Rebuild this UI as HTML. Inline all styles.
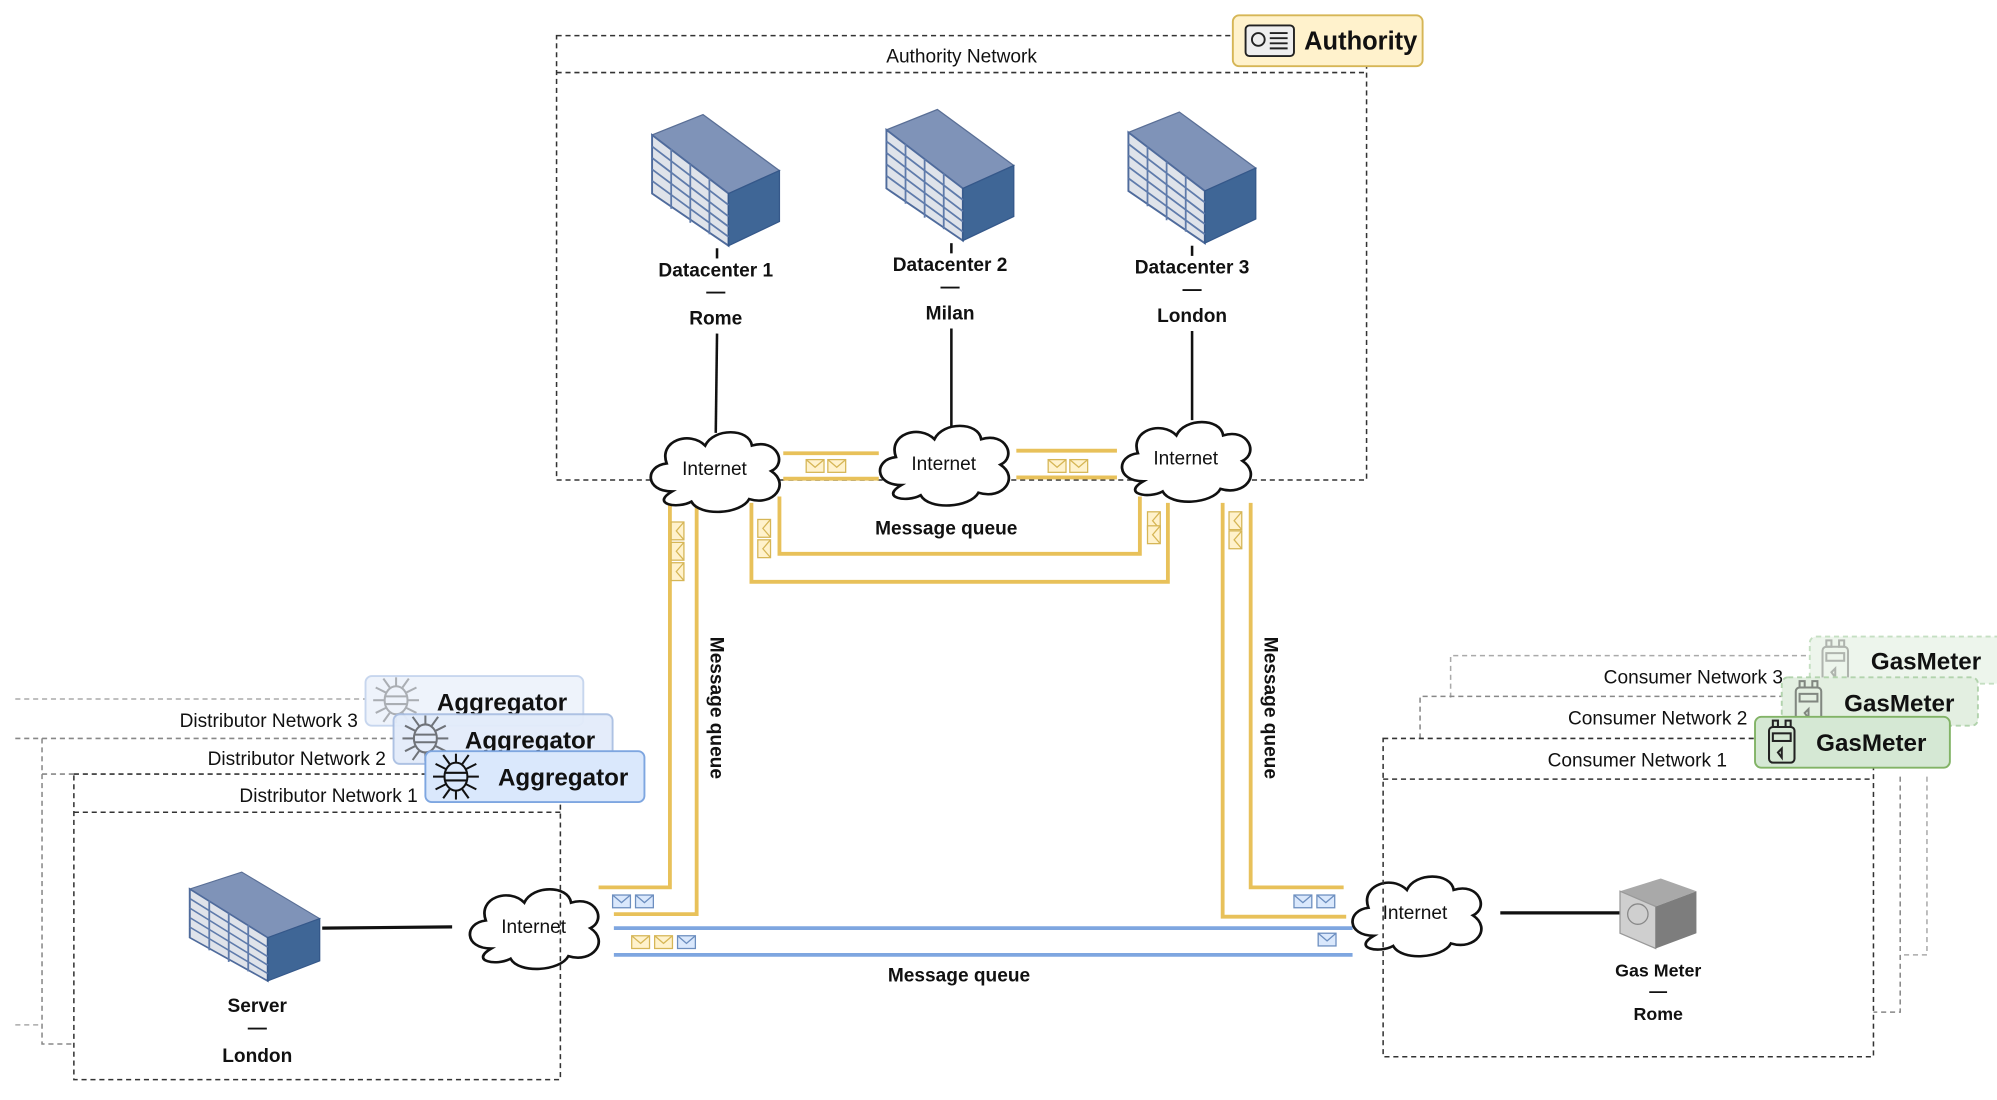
<!DOCTYPE html>
<html><head><meta charset="utf-8"><style>
html,body{margin:0;padding:0;background:#fff;width:1997px;height:1100px;overflow:hidden}
svg{display:block}
text{font-family:"Liberation Sans Narrow","Liberation Sans",sans-serif;fill:#111}
</style></head><body>
<svg width="1997" height="1100" viewBox="0 0 1568 864" preserveAspectRatio="none">
<defs>
<g id="cube">
  <polygon points="0,16 40,0 100,44 60,62" fill="#7f93b8" stroke="#5a6f96" stroke-width="1"/>
  <polygon points="0,16 60,62 60,103 0,62" fill="#dfe3ea" stroke="#4f6b9c" stroke-width="1.5"/>
  <polygon points="60,62 100,44 100,84 60,103" fill="#3f6696" stroke="#35588a" stroke-width="1"/>
  <g stroke="#5f7bab" stroke-width="1.4">
    <line x1="15" y1="27" x2="15" y2="74"/><line x1="30" y1="39" x2="30" y2="85"/><line x1="45" y1="50" x2="45" y2="94"/>
    <line x1="0" y1="25" x2="60" y2="71"/><line x1="0" y1="34" x2="60" y2="80"/><line x1="0" y1="43" x2="60" y2="88"/><line x1="0" y1="52" x2="60" y2="96"/>
  </g>
</g>
<path id="cloud" d="M22,50 C2,50 2,30 18,28 C12,10 35,2 46,14 C52,0 78,0 80,14 C98,8 106,28 94,34 C108,44 96,62 78,56 C72,68 42,70 36,58 C26,64 6,60 22,50 Z" fill="#fff" stroke="#111" stroke-width="2"/>
<g id="envY"><rect x="0" y="0" width="14" height="10" fill="#fff2cc" stroke="#d6b656"/><polyline points="0,0 7,6 14,0" fill="none" stroke="#d6b656"/></g>
<g id="envB"><rect x="0" y="0" width="14" height="10" fill="#dae8fc" stroke="#6c8ebf"/><polyline points="0,0 7,6 14,0" fill="none" stroke="#6c8ebf"/></g>
<g id="aggIcon" fill="none" stroke="#111" stroke-width="1.6">
  <ellipse cx="0" cy="0" rx="9" ry="11"/><line x1="-9" y1="-3" x2="9" y2="-3"/><line x1="-9" y1="3" x2="9" y2="3"/>
  <line x1="-9" y1="0" x2="-18" y2="0"/><line x1="9" y1="0" x2="18" y2="0"/>
  <line x1="-5" y1="-10" x2="-10" y2="-17"/><line x1="5" y1="-10" x2="10" y2="-17"/><line x1="0" y1="-11" x2="0" y2="-18"/>
  <line x1="-5" y1="10" x2="-10" y2="17"/><line x1="5" y1="10" x2="10" y2="17"/><line x1="0" y1="11" x2="0" y2="18"/>
  <line x1="-8" y1="-6" x2="-16" y2="-10"/><line x1="8" y1="-6" x2="16" y2="-10"/><line x1="-8" y1="6" x2="-16" y2="10"/><line x1="8" y1="6" x2="16" y2="10"/>
</g>
<g id="gmIcon" fill="none" stroke="#222" stroke-width="1.6">
  <rect x="-10" y="-12" width="20" height="28" rx="3"/><rect x="-7" y="-17" width="4" height="5"/><rect x="3" y="-17" width="4" height="5"/>
  <rect x="-7" y="-7" width="14" height="6"/><path d="M-3,8 l3,-3 v7 z"/>
</g>
</defs>

<!-- Authority network -->
<g fill="none" stroke="#333" stroke-width="1.2" stroke-dasharray="4,3">
  <rect x="437" y="28" width="636" height="349"/>
  <line x1="437" y1="57" x2="1073" y2="57"/>
</g>
<text x="755" y="49" font-size="15" text-anchor="middle">Authority Network</text>
<rect x="968" y="12" width="149" height="40" rx="5" fill="#fff2cc" stroke="#d6b656" stroke-width="1.5"/>
<rect x="978" y="20" width="38" height="24" rx="3" fill="#eee" stroke="#222" stroke-width="1.5"/>
<circle cx="988" cy="31" r="5" fill="none" stroke="#222" stroke-width="1.5"/>
<g stroke="#222" stroke-width="1.5"><line x1="997" y1="26" x2="1011" y2="26"/><line x1="997" y1="30" x2="1011" y2="30"/><line x1="997" y1="34" x2="1011" y2="34"/><line x1="997" y1="38" x2="1011" y2="38"/></g>
<text x="1024" y="39" font-size="20" font-weight="bold">Authority</text>

<use href="#cube" x="512" y="90"/>
<use href="#cube" x="696" y="86"/>
<use href="#cube" x="886" y="88"/>
<g font-size="15" font-weight="bold" text-anchor="middle">
<text x="562" y="217">Datacenter 1</text><text x="562" y="234">—</text><text x="562" y="255">Rome</text>
<text x="746" y="213">Datacenter 2</text><text x="746" y="230">—</text><text x="746" y="251">Milan</text>
<text x="936" y="215">Datacenter 3</text><text x="936" y="232">—</text><text x="936" y="253">London</text>
</g>
<g stroke="#111" stroke-width="2">
<line x1="563" y1="195" x2="563" y2="203"/><line x1="747" y1="191" x2="747" y2="199"/><line x1="936" y1="193" x2="936" y2="201"/>
<line x1="563" y1="262" x2="562" y2="340"/><line x1="747" y1="258" x2="747" y2="335"/><line x1="936" y1="260" x2="936" y2="330"/>
</g>

<!-- yellow message queues -->
<g fill="none" stroke="#e8c15a" stroke-width="3">
  <line x1="615" y1="356" x2="690" y2="356"/><line x1="615" y1="376" x2="690" y2="376"/>
  <line x1="798" y1="354" x2="877" y2="354"/><line x1="798" y1="375" x2="877" y2="375"/>
  <polyline points="612,390 612,435 895,435 895,390"/>
  <polyline points="590,395 590,457 917,457 917,395"/>
  <polyline points="526,395 526,697 470,697"/>
  <polyline points="547,395 547,718 482,718"/>
  <polyline points="982,395 982,697 1055,697"/>
  <polyline points="960,395 960,720 1057,720"/>
</g>
<g fill="none" stroke="#7ea6e0" stroke-width="3">
  <line x1="482" y1="729" x2="1062" y2="729"/><line x1="482" y1="750" x2="1062" y2="750"/>
</g>
<use href="#envY" x="633" y="361"/><use href="#envY" x="650" y="361"/>
<use href="#envY" x="823" y="361"/><use href="#envY" x="840" y="361"/>
<g transform="translate(532,410) rotate(90)"><use href="#envY" x="0" y="-5"/><use href="#envY" x="16" y="-5"/><use href="#envY" x="32" y="-5"/></g>
<g transform="translate(600,408) rotate(90)"><use href="#envY" x="0" y="-5"/><use href="#envY" x="16" y="-5"/></g>
<g transform="translate(906,402) rotate(90)"><use href="#envY" x="0" y="-5"/><use href="#envY" x="11" y="-5"/></g>
<g transform="translate(970,402) rotate(90)"><use href="#envY" x="0" y="-5"/><use href="#envY" x="15" y="-5"/></g>
<use href="#envB" x="481" y="703"/><use href="#envB" x="499" y="703"/>
<use href="#envB" x="1016" y="703"/><use href="#envB" x="1034" y="703"/>
<use href="#envY" x="496" y="735"/><use href="#envY" x="514" y="735"/><use href="#envB" x="532" y="735"/>
<use href="#envB" x="1035" y="733"/>
<g font-size="15" font-weight="bold">
<text x="743" y="420" text-anchor="middle">Message queue</text>
<text x="753" y="771" text-anchor="middle">Message queue</text>
<text transform="translate(558,556) rotate(90)" text-anchor="middle">Message queue</text>
<text transform="translate(993,556) rotate(90)" text-anchor="middle">Message queue</text>
</g>

<!-- clouds -->
<g font-size="15" text-anchor="middle">
<use href="#cloud" transform="translate(504,336) scale(1.08,1)"/><text x="561" y="373">Internet</text>
<use href="#cloud" transform="translate(684,331) scale(1.08,1)"/><text x="741" y="369">Internet</text>
<use href="#cloud" transform="translate(874,328) scale(1.08,1)"/><text x="931" y="365">Internet</text>
<use href="#cloud" transform="translate(362,695) scale(1.08,1)"/><text x="419" y="733">Internet</text>
<use href="#cloud" transform="translate(1055,685) scale(1.08,1)"/><text x="1111" y="722">Internet</text>
</g>

<!-- distributor networks -->
<g fill="none" stroke-dasharray="4,3" stroke-width="1.2">
  <polyline points="12,549 290,549" stroke="#aaa"/>
  <polyline points="12,580 33,580 33,820 58,820" stroke="#888"/>
  <polyline points="12,805 33,805" stroke="#aaa"/>
  <polyline points="33,580 310,580" stroke="#888"/>
  <polyline points="33,608 58,608" stroke="#888"/>
  <rect x="58" y="608" width="382" height="240" stroke="#333"/>
  <line x1="58" y1="638" x2="440" y2="638" stroke="#333"/>
</g>
<g font-size="15" text-anchor="end">
<text x="281" y="571">Distributor Network 3</text>
<text x="303" y="601">Distributor Network 2</text>
<text x="328" y="630">Distributor Network 1</text>
</g>
<rect x="287" y="531" width="171" height="39" rx="5" fill="#eef3fb" stroke="#c7d6ee" stroke-width="1.5"/>
<use href="#aggIcon" x="311" y="550" opacity="0.3"/>
<text x="343" y="558" font-size="19" font-weight="bold">Aggregator</text>
<rect x="309" y="561" width="172" height="39" rx="5" fill="#e3ecfa" stroke="#aabfe2" stroke-width="1.5" opacity="0.95"/>
<use href="#aggIcon" x="334" y="580" opacity="0.55"/>
<text x="365" y="588" font-size="19" font-weight="bold">Aggregator</text>
<rect x="334" y="590" width="172" height="40" rx="5" fill="#dae8fc" stroke="#7ea6e0" stroke-width="1.5"/>
<use href="#aggIcon" x="358" y="610"/>
<text x="391" y="617" font-size="19" font-weight="bold">Aggregator</text>

<use href="#cube" transform="translate(149,685) scale(1.02,0.83)"/>
<line x1="253" y1="729" x2="355" y2="728" stroke="#111" stroke-width="2.5"/>
<g font-size="15" font-weight="bold" text-anchor="middle">
<text x="202" y="795">Server</text><text x="202" y="812">—</text><text x="202" y="834">London</text>
</g>

<!-- consumer networks -->
<g fill="none" stroke-dasharray="4,3" stroke-width="1.2">
  <polyline points="1139,548 1139,515 1430,515" stroke="#aaa"/>
  <polyline points="1513,610 1513,750 1492,750" stroke="#aaa"/>
  <polyline points="1115,580 1115,547 1410,547" stroke="#888"/>
  <polyline points="1492,610 1492,795 1471,795" stroke="#888"/>
  <rect x="1086" y="580" width="385" height="250" stroke="#333"/>
  <line x1="1086" y1="612" x2="1471" y2="612" stroke="#333"/>
</g>
<g font-size="15" text-anchor="end">
<text x="1400" y="537">Consumer Network 3</text>
<text x="1372" y="569">Consumer Network 2</text>
<text x="1356" y="602">Consumer Network 1</text>
</g>
<rect x="1421" y="500" width="160" height="37" rx="5" fill="#edf5ec" stroke="#c5dfc2" stroke-width="1.5" stroke-dasharray="4,3"/>
<use href="#gmIcon" x="1441" y="520" opacity="0.3"/>
<text x="1469" y="526" font-size="19" font-weight="bold">GasMeter</text>
<rect x="1399" y="532" width="154" height="38" rx="5" fill="#e3efe1" stroke="#b2d3ad" stroke-width="1.5" stroke-dasharray="4,3"/>
<use href="#gmIcon" x="1420" y="552" opacity="0.5"/>
<text x="1448" y="559" font-size="19" font-weight="bold">GasMeter</text>
<rect x="1378" y="563" width="153" height="40" rx="5" fill="#d5e8d4" stroke="#82b366" stroke-width="1.5"/>
<use href="#gmIcon" x="1399" y="583"/>
<text x="1426" y="590" font-size="19" font-weight="bold">GasMeter</text>

<line x1="1178" y1="717" x2="1272" y2="717" stroke="#111" stroke-width="2.5"/>
<polygon points="1272,700 1304,690 1332,700 1300,712" fill="#a9a9a9"/>
<polygon points="1272,700 1300,712 1300,745 1272,733" fill="#cfcfcf" stroke="#999"/>
<polygon points="1300,712 1332,700 1332,733 1300,745" fill="#7d7d7d"/>
<circle cx="1286" cy="718" r="8" fill="none" stroke="#888"/>
<g font-size="14" font-weight="bold" text-anchor="middle">
<text x="1302" y="767">Gas Meter</text><text x="1302" y="783">—</text><text x="1302" y="801">Rome</text>
</g>
</svg>
</body></html>
